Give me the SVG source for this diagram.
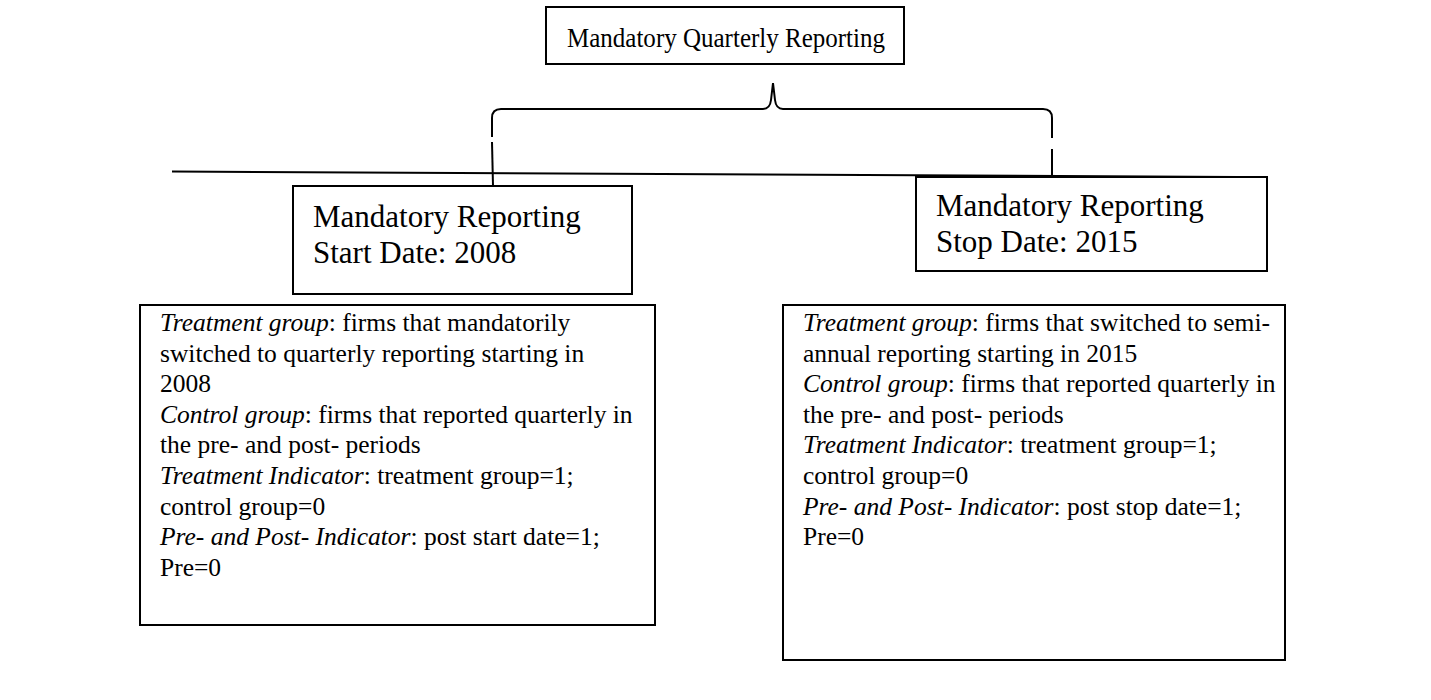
<svg xmlns="http://www.w3.org/2000/svg" width="1431" height="700" viewBox="0 0 1431 700">
<style>
.box{fill:#fff;stroke:#000;stroke-width:2}
.ln{fill:none;stroke:#000;stroke-width:2}
text{font-family:"Liberation Serif","Times New Roman",serif;fill:#000}
.t1{font-size:26.5px}
.t2{font-size:31px}
.t3{font-size:25.5px}
.i{font-style:italic}
</style>
<rect width="1431" height="700" fill="#fff"/>
<g id="connectors">
<path class="ln" d="M172 171.5 L1237 177"/>
<path class="ln" d="M492 137 L492 118 Q492 109 501 109 L763 109 Q770 109 771 100 L773 83 L775 100 Q776 109 783 109 L1043 109 Q1052 109 1052 118 L1052 138"/>
<path class="ln" d="M492 142 L493 186"/>
<path class="ln" d="M1052 149 L1052 177"/>
</g>
<g id="top">
<rect class="box" x="546" y="7" width="358" height="57"/>
<text class="t1" x="567" y="47" textLength="318" lengthAdjust="spacingAndGlyphs">Mandatory Quarterly Reporting</text>
</g>
<g id="start">
<rect class="box" x="293" y="186" width="339" height="108"/>
<text class="t2" x="313" y="227">Mandatory Reporting</text>
<text class="t2" x="313" y="263">Start Date: 2008</text>
</g>
<g id="stop">
<rect class="box" x="916" y="177" width="351" height="94"/>
<text class="t2" x="936" y="216">Mandatory Reporting</text>
<text class="t2" x="936" y="252">Stop Date: 2015</text>
</g>
<g id="left">
<rect class="box" x="140" y="305" width="515" height="320"/>
<text class="t3" x="160" y="331"><tspan class="i">Treatment group</tspan>: firms that mandatorily</text>
<text class="t3" x="160" y="361.6">switched to quarterly reporting starting in</text>
<text class="t3" x="160" y="392.2">2008</text>
<text class="t3" x="160" y="422.8"><tspan class="i">Control group</tspan>: firms that reported quarterly in</text>
<text class="t3" x="160" y="453.4">the pre- and post- periods</text>
<text class="t3" x="160" y="484"><tspan class="i">Treatment Indicator</tspan>: treatment group=1;</text>
<text class="t3" x="160" y="514.6">control group=0</text>
<text class="t3" x="160" y="545.2"><tspan class="i">Pre- and Post- Indicator</tspan>: post start date=1;</text>
<text class="t3" x="160" y="575.8">Pre=0</text>
</g>
<g id="right">
<rect class="box" x="783" y="305" width="502" height="355"/>
<text class="t3" x="803" y="331"><tspan class="i">Treatment group</tspan>: firms that switched to semi-</text>
<text class="t3" x="803" y="361.6">annual reporting starting in 2015</text>
<text class="t3" x="803" y="392.2"><tspan class="i">Control group</tspan>: firms that reported quarterly in</text>
<text class="t3" x="803" y="422.8">the pre- and post- periods</text>
<text class="t3" x="803" y="453.4"><tspan class="i">Treatment Indicator</tspan>: treatment group=1;</text>
<text class="t3" x="803" y="484">control group=0</text>
<text class="t3" x="803" y="514.6"><tspan class="i">Pre- and Post- Indicator</tspan>: post stop date=1;</text>
<text class="t3" x="803" y="545.2">Pre=0</text>
</g>
</svg>
